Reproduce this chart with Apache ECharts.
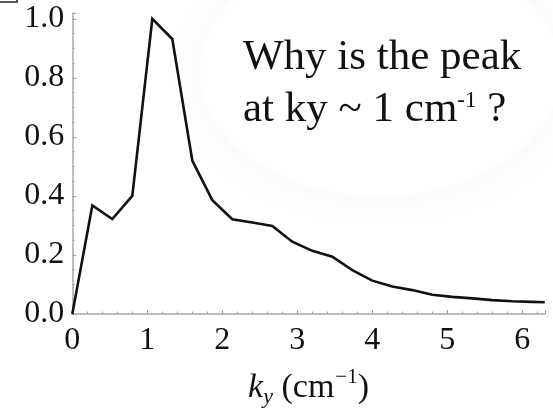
<!DOCTYPE html>
<html>
<head>
<meta charset="utf-8">
<script src="https://cdn.jsdelivr.net/npm/echarts@6/dist/echarts.min.js"></script>
<style>
  html, body { margin: 0; padding: 0; background: #ffffff; }
  #chart { width: 553px; height: 408px; }
</style>
</head>
<body>
<div id="chart"></div>
<script>
// Wavenumber samples k_y (cm^-1) and normalised spectral power
const kyValues = [0, 0.267, 0.533, 0.8, 1.067, 1.333, 1.6, 1.867, 2.133, 2.4,
  2.667, 2.933, 3.2, 3.467, 3.733, 4.0, 4.267, 4.533, 4.8, 5.067,
  5.333, 5.6, 5.867, 6.133, 6.3];
const power = [0.0, 0.368, 0.322, 0.40, 1.0, 0.932, 0.52, 0.386, 0.321, 0.31,
  0.298, 0.245, 0.214, 0.194, 0.149, 0.113, 0.093, 0.081, 0.065, 0.058,
  0.053, 0.047, 0.043, 0.041, 0.040];

// Axis ticks
const xTicks = [0, 1, 2, 3, 4, 5, 6];
const yTicks = [0.0, 0.2, 0.4, 0.6, 0.8, 1.0];

const serif = '"Liberation Serif", "Times New Roman", serif';
const points = kyValues.map((k, i) => [k, power[i]]);

const chart = echarts.init(document.getElementById('chart'), null, { renderer: 'canvas' });

chart.setOption({
  backgroundColor: '#ffffff',
  animation: false,
  grid: { left: 72.3, top: 13, width: 472.5, height: 301, containLabel: false, outerBoundsMode: 'none' },
  xAxis: {
    type: 'value',
    min: 0,
    max: 6.3,
    interval: 1,
    axisLine: { show: true, lineStyle: { color: '#a8a8a8', width: 1.5 } },
    axisTick: { show: true, inside: true, length: 4, lineStyle: { color: '#a0a0a0', width: 1 } },
    minorTick: { show: true, splitNumber: 5, length: 2.5, lineStyle: { color: '#a8a8a8', width: 1 } },
    splitLine: { show: false },
    axisLabel: {
      margin: 11,
      color: '#111111',
      fontFamily: serif,
      fontSize: 32,
      formatter: v => (xTicks.indexOf(Math.round(v * 1000) / 1000) >= 0 ? String(v) : '')
    },
    name: '{k|k}{sub|y}{n| (cm}{sup|−1}{n|)}',
    nameLocation: 'middle',
    nameGap: 53,
    nameTextStyle: {
      color: '#111111',
      fontFamily: serif,
      rich: {
        k: { fontFamily: serif, fontSize: 34, fontStyle: 'italic', lineHeight: 38, verticalAlign: 'bottom', color: '#111111' },
        sub: { fontFamily: serif, fontSize: 22, fontStyle: 'italic', lineHeight: 22, verticalAlign: 'bottom', padding: [0, 0, -3, 0], color: '#111111' },
        n: { fontFamily: serif, fontSize: 34, lineHeight: 38, verticalAlign: 'bottom', color: '#111111' },
        sup: { fontFamily: serif, fontSize: 21, lineHeight: 21, verticalAlign: 'top', padding: [0, 0, 0, 1], color: '#111111' }
      }
    }
  },
  yAxis: {
    type: 'value',
    min: 0,
    max: 1.02,
    interval: 0.2,
    axisLine: { show: true, lineStyle: { color: '#a8a8a8', width: 1.5 } },
    axisTick: { show: true, inside: true, length: 4, lineStyle: { color: '#a0a0a0', width: 1 } },
    minorTick: { show: true, splitNumber: 4, length: 2.5, lineStyle: { color: '#a8a8a8', width: 1 } },
    splitLine: { show: false },
    axisLabel: {
      margin: 8,
      color: '#111111',
      fontFamily: serif,
      fontSize: 32,
      formatter: v => {
        const r = Math.round(v * 100) / 100;
        return yTicks.indexOf(r) >= 0 ? r.toFixed(1) : '';
      }
    }
  },
  series: [{
    type: 'line',
    data: points,
    showSymbol: false,
    clip: true,
    lineStyle: { color: '#111111', width: 2.6, join: 'miter' },
    z: 5
  }],
  graphic: [
    {
      // soft callout backdrop behind the question
      type: 'ellipse',
      shape: { cx: 380, cy: 72, rx: 180, ry: 124 },
      style: { fill: '#ffffff', shadowBlur: 50, shadowColor: 'rgba(0,0,0,0.03)' },
      z: -1,
      silent: true
    },
    {
      type: 'rect',
      shape: { x: -6, y: -6, width: 23, height: 8 },
      style: { fill: 'none', stroke: '#222222', lineWidth: 1.5 },
      z: 10
    },
    {
      type: 'text',
      left: 243,
      top: 36,
      style: {
        text: 'Why is the peak',
        fontFamily: serif,
        fontSize: 43,
        fill: '#111111'
      },
      z: 10
    },
    {
      type: 'text',
      left: 243,
      top: 88,
      style: {
        text: 'at ky ~ 1 cm{sup|-1} ?',
        fontFamily: serif,
        fontSize: 43,
        fill: '#111111',
        rich: {
          sup: { fontFamily: serif, fontSize: 23, lineHeight: 23, verticalAlign: 'top', padding: [1, 0, 0, 0], fill: '#111111' }
        }
      },
      z: 10
    }
  ]
});
</script>
</body>
</html>
